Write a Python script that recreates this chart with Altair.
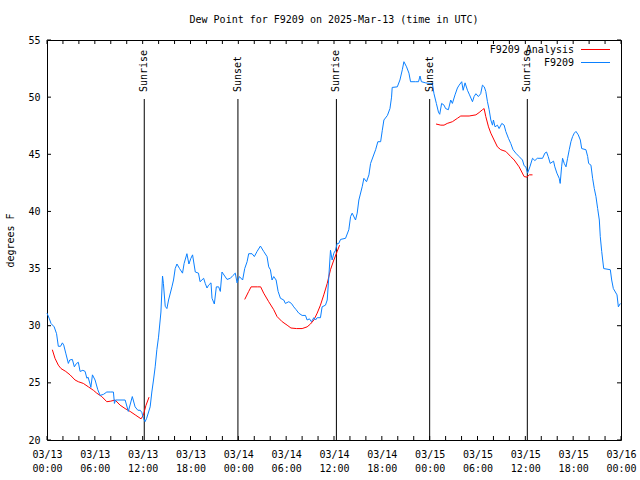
import altair as alt
import pandas as pd

FONT = "DejaVu Sans Mono"
W, H = 574, 400

# Observed dew point (F9209): hours since 2025-03-13 00:00 UTC, degrees F
obs_hours = [0.0, 0.3, 0.5, 0.9, 1.2, 1.42, 1.7, 1.93, 2.1, 2.35, 2.68, 2.85, 3.18, 3.43, 3.7, 3.93,
             4.15, 4.5, 4.78, 5.0, 5.15, 5.4, 5.5, 5.7, 6.03, 6.37, 6.66, 7.1, 7.5, 8.0, 8.33, 8.46,
             8.6, 9.8, 10.2, 10.7, 11.05, 11.4, 11.7, 11.9, 12.1, 12.3, 12.5, 12.94, 13.15, 13.36,
             13.57, 13.78, 13.99, 14.29, 14.49, 14.6, 14.83, 15.04, 15.25, 15.67, 15.87, 16.08, 16.3,
             16.63, 17.0, 17.2, 17.55, 17.8, 18.05, 18.26, 18.6, 19.0, 19.2, 19.65, 19.85, 20.07,
             20.27, 20.57, 20.7, 20.99, 21.24, 21.53, 21.74, 21.95, 22.58, 23.0, 23.33, 23.62, 23.84,
             24.13, 24.54, 24.8, 25.1, 25.3, 25.72, 26.01, 26.35, 26.77, 27.18, 27.6, 27.81, 28.02,
             28.23, 28.44, 28.74, 28.99, 29.28, 29.7, 29.9, 30.33, 30.66, 30.95, 31.25, 31.58, 32.0,
             32.42, 32.63, 32.92, 33.17, 33.47, 33.68, 33.89, 34.3, 34.51, 34.93, 35.15, 35.35, 35.56,
             35.77, 35.98, 36.19, 36.4, 36.6, 36.82, 37.45, 37.86, 38.08, 38.28, 38.7, 38.91, 39.12,
             39.55, 39.75, 40.08, 40.38, 40.59, 40.93, 41.22, 41.5, 41.85, 42.06, 42.26, 42.7, 43.02,
             43.22, 43.3, 43.94, 44.27, 44.57, 44.77, 45.1, 45.4, 45.6, 46.24, 46.6, 46.79, 46.96,
             47.5, 47.92, 48.34, 48.54, 48.84, 49.1, 49.26, 49.5, 49.8, 50.0, 50.35, 50.64, 50.85,
             51.18, 51.48, 51.7, 52.02, 52.2, 52.44, 52.74, 53.0, 53.37, 53.57, 53.8, 54.11, 54.4,
             54.62, 54.85, 55.04, 55.25, 55.46, 55.67, 55.88, 56.0, 56.2, 56.5, 56.71, 57.05, 57.34,
             57.55, 57.88, 58.17, 58.46, 58.8, 59.22, 59.64, 59.85, 60.06, 60.28, 60.57, 60.9, 61.2,
             61.5, 62.16, 62.45, 62.66, 62.87, 63.12, 63.54, 63.7, 63.96, 64.25, 64.37, 64.55, 64.67,
             64.88, 65.1, 65.3, 65.51, 65.72, 65.93, 66.14, 66.35, 66.64, 66.9, 67.07, 67.6, 67.82,
             67.94, 68.23, 68.44, 68.65, 68.86, 69.07, 69.28, 69.4, 69.58, 69.83, 70.66, 70.83, 71.04,
             71.5, 71.67, 71.92]
obs_dewpt = [31.1, 30.6, 30.2, 29.9, 29.3, 28.2, 28.2, 28.5, 28.3, 27.6, 26.7, 27.0, 27.05, 26.4, 26.7, 26.8,
             26.0, 26.1, 26.0, 25.4, 25.5, 24.9, 24.6, 25.7, 25.25, 24.4, 23.9, 24.0, 24.2, 24.2, 24.2, 23.2,
             23.5, 23.5, 22.5, 23.8, 22.9, 22.6, 22.6, 22.4, 21.9, 21.6, 21.9, 22.9, 24.2, 25.25,
             26.4, 27.9, 29.0, 31.2, 34.35, 33.7, 31.7, 31.5, 32.25, 33.4, 34.0, 35.0, 35.4,
             35.0, 34.6, 35.45, 36.3, 35.4, 35.9, 36.2, 34.7, 34.6, 33.85, 34.15, 33.7, 33.3,
             33.55, 33.75, 32.4, 31.9, 33.4, 33.4, 33.0, 34.7, 34.05, 34.15, 34.4, 34.6, 33.75,
             34.3, 34.0, 35.0, 35.6, 36.3, 36.3, 36.05, 36.5, 36.97, 36.5, 36.05, 35.15, 34.9,
             34.0, 34.3, 34.0, 33.0, 32.4, 32.25, 31.95, 32.1, 31.95, 31.65, 31.4, 31.1, 30.9,
             30.9, 30.5, 30.6, 30.35, 30.7, 30.5, 30.7, 30.7, 31.65, 31.8, 32.25, 34.3, 36.6,
             35.75, 36.35, 36.6, 37.2, 37.2, 37.55, 37.65, 38.4, 39.55, 39.85, 39.25, 39.85, 41.0,
             42.2, 42.9, 42.6, 43.2, 44.2, 44.85, 45.4, 46.1, 46.1, 47.1, 48.0, 48.4, 49.0,
             50.0, 50.85, 50.9, 51.5, 52.4, 53.1, 52.65, 52.1, 51.35, 51.35, 51.35, 51.85, 51.35,
             51.25, 51.2, 51.2, 50.3, 49.45, 48.7, 48.5, 49.45, 49.3, 49.0, 48.9, 49.75, 49.45,
             50.2, 50.8, 51.05, 51.35, 50.6, 51.25, 50.6, 50.2, 49.6, 50.05, 50.3, 50.05, 50.3,
             51.05, 50.9, 50.5, 49.6, 48.9, 48.0, 47.55, 48.0, 47.4, 47.55, 47.25, 47.7, 47.55,
             47.0, 46.4, 45.95, 45.4, 45.1, 44.8, 44.5, 44.0, 43.9, 43.35, 43.9, 44.65, 44.45,
             44.65, 44.65, 45.1, 45.2, 44.8, 44.2, 44.4, 43.9, 43.35, 42.9, 42.45, 43.9, 44.65,
             44.2, 43.9, 44.65, 45.4, 46.1, 46.55, 46.85, 47.0, 46.7, 46.25, 45.5, 45.4, 44.8,
             44.2, 44.05, 42.9, 42.0, 41.3, 40.25, 39.25, 37.8, 36.5, 35.0, 34.9, 34.0, 33.25,
             32.7, 31.65, 31.95]

# Analysis dew point (F9209 Analysis), three separate runs
ana1_hours = [0.67, 1.0, 1.42, 1.76, 2.35, 2.89, 3.52, 3.93, 4.56, 5.19, 5.82, 6.24, 6.87, 7.5, 8.0,
              8.54, 9.17, 9.8, 10.43, 11.06, 11.8, 12.1, 12.4, 12.8]
ana1_dewpt = [27.9, 27.15, 26.55, 26.25, 26.0, 25.7, 25.25, 25.1, 24.95, 24.65, 24.35, 24.1, 23.8, 23.35, 23.4,
              23.5, 23.05, 22.75, 22.5, 22.2, 21.85, 22.2, 23.0, 23.75]
ana2_hours = [24.8, 25.3, 25.6, 26.4, 26.8, 27.18, 27.81, 28.44, 28.86, 29.5, 30.12, 30.6, 31.3, 32.0,
              32.63, 33.05, 33.47, 33.89, 34.3, 34.72, 35.15, 35.56, 35.98, 36.4, 36.7]
ana2_dewpt = [32.3, 33.0, 33.4, 33.4, 33.4, 32.85, 32.1, 31.4, 30.8, 30.35, 30.05, 29.8, 29.75, 29.75,
              29.9, 30.15, 30.5, 31.1, 31.8, 32.7, 33.7, 34.9, 35.75, 36.5, 37.05]
ana3_hours = [48.8, 49.4, 49.8, 50.2, 50.85, 51.48, 51.9, 52.95, 53.8, 54.2, 54.62, 54.83, 55.04, 55.38,
              55.67, 56.08, 56.5, 56.92, 57.55, 58.17, 58.6, 59.22, 59.85, 60.2, 60.5, 60.9]
ana3_dewpt = [47.65, 47.55, 47.55, 47.7, 47.85, 48.15, 48.35, 48.35, 48.45, 48.65, 48.9, 49.0, 48.3, 47.4,
              46.85, 46.25, 45.65, 45.4, 45.25, 44.8, 44.5, 43.9, 43.05, 43.0, 43.2, 43.2]

event_hours = [12.2, 23.95, 36.3, 48.0, 60.25]
event_labels = ["Sunrise", "Sunset", "Sunrise", "Sunset", "Sunrise"]

xtick_hours = list(range(0, 73, 2))
xlabel_hours = list(range(0, 73, 6))
ytick_vals = list(range(20, 56, 5))

TITLE = "Dew Point for F9209 on 2025-Mar-13 (time in UTC)"
RED = "#ff0000"
BLUE = "#0a80ff"

obs = pd.DataFrame({"h": obs_hours, "v": obs_dewpt})
ana = pd.DataFrame({
    "h": ana1_hours + ana2_hours + ana3_hours,
    "v": ana1_dewpt + ana2_dewpt + ana3_dewpt,
    "seg": [1] * len(ana1_hours) + [2] * len(ana2_hours) + [3] * len(ana3_hours),
})
events = pd.DataFrame({"h": event_hours, "label": event_labels})
xt = pd.DataFrame({"h": xtick_hours})
yt = pd.DataFrame({"v": ytick_vals})

xs = alt.Scale(domain=[0, 72], nice=False, zero=False)
ys = alt.Scale(domain=[20, 55], nice=False, zero=False)

label_expr = ("['03/' + (13 + floor(datum.value / 24)), "
              "(datum.value % 24 < 10 ? '0' : '') + (datum.value % 24) + ':00']")

x_axis = alt.Axis(values=xlabel_hours, labelExpr=label_expr, title=None, ticks=False, tickSize=0,
                  domain=False, grid=False, labelFont=FONT, labelFontSize=10, labelColor="black",
                  labelPadding=9, labelLineHeight=14, labelFlush=False, labelOverlap=False)
y_axis = alt.Axis(values=ytick_vals, title="degrees F", ticks=False, tickSize=0, domain=False,
                  grid=False, labelFont=FONT, labelFontSize=10, labelColor="black", labelPadding=7,
                  titleFont=FONT, titleFontSize=10, titleFontWeight="normal", titleColor="black",
                  titlePadding=12, labelFlush=False)

base_x = alt.X("h:Q", scale=xs, axis=x_axis)
base_y = alt.Y("v:Q", scale=ys, axis=y_axis)

# invisible layer carrying axes
axes = alt.Chart(obs).mark_point(opacity=0).encode(x=base_x, y=base_y)

tick_len = 4
xt_bottom = alt.Chart(xt).mark_rule(color="black", strokeWidth=1).encode(
    x=alt.X("h:Q", scale=xs), y=alt.value(H), y2=alt.value(H - tick_len))
xt_top = alt.Chart(xt).mark_rule(color="black", strokeWidth=1).encode(
    x=alt.X("h:Q", scale=xs), y=alt.value(0), y2=alt.value(tick_len))
yt_left = alt.Chart(yt).mark_rule(color="black", strokeWidth=1).encode(
    y=alt.Y("v:Q", scale=ys), x=alt.value(0), x2=alt.value(tick_len))
yt_right = alt.Chart(yt).mark_rule(color="black", strokeWidth=1).encode(
    y=alt.Y("v:Q", scale=ys), x=alt.value(W), x2=alt.value(W - tick_len))

ev_lines = alt.Chart(events).mark_rule(color="black", strokeWidth=1).encode(
    x=alt.X("h:Q", scale=xs), y=alt.value(59), y2=alt.value(H))
ev_text = alt.Chart(events).mark_text(angle=270, align="left", baseline="middle", font=FONT,
                                      fontSize=10, color="black").encode(
    x=alt.X("h:Q", scale=xs), y=alt.value(52), text="label:N")

ana_line = alt.Chart(ana).mark_line(color=RED, strokeWidth=1).encode(
    x=alt.X("h:Q", scale=xs), y=alt.Y("v:Q", scale=ys), detail="seg:N")
obs_line = alt.Chart(obs).mark_line(color=BLUE, strokeWidth=1).encode(
    x=alt.X("h:Q", scale=xs), y=alt.Y("v:Q", scale=ys))

leg_df = pd.DataFrame({"t": ["F9209 Analysis"]})
leg_df2 = pd.DataFrame({"t": ["F9209"]})
leg_t1 = alt.Chart(leg_df).mark_text(align="right", baseline="middle", font=FONT, fontSize=10,
                                     color="black").encode(x=alt.value(527), y=alt.value(10), text="t:N")
leg_t2 = alt.Chart(leg_df2).mark_text(align="right", baseline="middle", font=FONT, fontSize=10,
                                      color="black").encode(x=alt.value(527), y=alt.value(22.5), text="t:N")
leg_l1 = alt.Chart(leg_df).mark_rule(color=RED, strokeWidth=1).encode(
    x=alt.value(534), x2=alt.value(563), y=alt.value(9.5))
leg_l2 = alt.Chart(leg_df2).mark_rule(color=BLUE, strokeWidth=1).encode(
    x=alt.value(534), x2=alt.value(563), y=alt.value(22.5))

chart = alt.layer(
    axes, xt_bottom, xt_top, yt_left, yt_right, ev_lines, ana_line, obs_line, ev_text,
    leg_t1, leg_t2, leg_l1, leg_l2
).properties(
    width=W, height=H,
    title=alt.TitleParams(TITLE, font=FONT, fontSize=10, fontWeight="normal", color="black",
                          anchor="middle", offset=10),
    autosize=alt.AutoSizeParams(type="none"),
    padding={"left": 47, "top": 40, "right": 19, "bottom": 40},
    background="white",
).configure_view(stroke="black", strokeWidth=1)

chart.save("out.html", embed_options={"renderer": "svg", "actions": False})
